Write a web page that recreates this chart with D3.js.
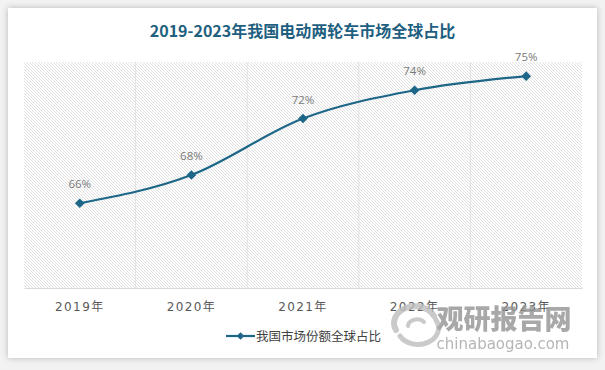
<!DOCTYPE html>
<html>
<head>
<meta charset="utf-8">
<script src="https://cdn.jsdelivr.net/npm/d3@7"></script>
<style>
  html, body { margin: 0; padding: 0; background: #f2f2f2; }
  svg { display: block; font-family: "Noto Sans CJK SC", "DejaVu Sans", sans-serif; }
</style>
</head>
<body>
<svg id="chart" width="605" height="370"></svg>
<script>
// data
const years = ["2019年", "2020年", "2021年", "2022年", "2023年"];
const share = [66, 68, 72, 74, 75];
const labels = ["66%", "68%", "72%", "74%", "75%"];
const seriesName = "我国市场份额全球占比";
const title = "2019-2023年我国电动两轮车市场全球占比";

const W = 605, H = 370;
const margin = { left: 24, right: 23, top: 62, bottom: 82 };
const mainColor = "#1d6688";

const svg = d3.select("#chart");
const defs = svg.append("defs");

// card shadow
const sh = defs.append("filter").attr("id", "shadow")
  .attr("x", "-5%").attr("y", "-5%").attr("width", "110%").attr("height", "110%");
sh.append("feGaussianBlur").attr("in", "SourceAlpha").attr("stdDeviation", 3);
sh.append("feOffset").attr("dx", 0).attr("dy", 0).attr("result", "b");
sh.append("feComponentTransfer").append("feFuncA").attr("type", "linear").attr("slope", 0.25);
const m = sh.append("feMerge");
m.append("feMergeNode");
m.append("feMergeNode").attr("in", "SourceGraphic");

// diagonal hatch for plot area
const pat = defs.append("pattern").attr("id", "hatch")
  .attr("patternUnits", "userSpaceOnUse").attr("width", 3).attr("height", 3);
pat.append("rect").attr("width", 3).attr("height", 3).attr("fill", "#fff");
pat.append("path").attr("d", "M-1,-1 L4,4 M-1,2 L1,4 M2,-1 L4,1")
  .attr("stroke", "#dcdcdc").attr("stroke-width", 0.85);

svg.append("rect").attr("x", 8).attr("y", 8).attr("width", 589).attr("height", 350)
  .attr("fill", "#fff").attr("filter", "url(#shadow)");

const x = d3.scaleBand().domain(years).range([margin.left, W - margin.right]);
const y = d3.scaleLinear().domain([60, 76]).range([H - margin.bottom, margin.top]);

// plot background
svg.append("rect")
  .attr("x", margin.left).attr("y", margin.top)
  .attr("width", W - margin.left - margin.right)
  .attr("height", H - margin.top - margin.bottom)
  .attr("fill", "url(#hatch)");

// vertical grid lines at category boundaries
const bounds = years.map(d => x(d)).concat([x(years[years.length - 1]) + x.bandwidth()]);
svg.append("g").selectAll("line").data(bounds.slice(1, -1)).join("line")
  .attr("x1", d => d).attr("x2", d => d)
  .attr("y1", margin.top).attr("y2", H - margin.bottom)
  .attr("stroke", "#e2e2e2").attr("stroke-width", 1);

// x axis
const xAxis = svg.append("g")
  .attr("transform", `translate(0,${H - margin.bottom})`)
  .call(d3.axisBottom(x).tickSize(0).tickPadding(14));
xAxis.select(".domain").attr("stroke", "#d9d9d9").attr("stroke-width", 1.2);
xAxis.selectAll("text")
  .attr("fill", "#595959").attr("font-size", "12px")
  .attr("letter-spacing", "1.4px")
  .attr("font-family", "'DejaVu Sans', 'Noto Sans CJK SC', sans-serif");

// title
svg.append("text").attr("x", W / 2).attr("y", 37).attr("text-anchor", "middle")
  .attr("font-size", "16px").attr("font-weight", "bold").attr("fill", "#1f5f7f")
  .text(title);

// line
const pts = years.map((d, i) => [x(d) + x.bandwidth() / 2, y(share[i])]);
svg.append("path").datum(pts)
  .attr("d", d3.line().curve(d3.curveMonotoneX))
  .attr("fill", "none").attr("stroke", mainColor).attr("stroke-width", 2.2);

const diamond = d3.symbol().type(d3.symbolDiamond2).size(60);
svg.append("g").selectAll("path").data(pts).join("path")
  .attr("transform", d => `translate(${d[0]},${d[1]})`)
  .attr("d", diamond).attr("fill", mainColor);

svg.append("g").selectAll("text").data(pts).join("text")
  .attr("x", d => d[0]).attr("y", d => d[1] - 15)
  .attr("text-anchor", "middle").attr("font-size", "11.5px").attr("fill", "#7a7a7a")
  .attr("font-family", "'Open Sans', 'DejaVu Sans', sans-serif")
  .text((d, i) => labels[i]);

// legend
const lg = svg.append("g").attr("transform", "translate(226,336)");
lg.append("line").attr("x1", 0).attr("x2", 29).attr("stroke", mainColor).attr("stroke-width", 2.2);
lg.append("path").attr("transform", "translate(14.5,0)")
  .attr("d", d3.symbol().type(d3.symbolDiamond2).size(36)).attr("fill", mainColor);
lg.append("text").attr("x", 30).attr("y", 4.5).attr("font-size", "12.5px")
  .attr("fill", "#404040").text(seriesName);

// watermark
const wm = svg.append("g").attr("opacity", 0.8);
const logo = wm.append("g").attr("transform", "translate(416,324)")
  .attr("fill", "none").attr("stroke", "#bdbdbd").attr("stroke-linecap", "round");
logo.append("path").attr("d", "M-20,6 A20,16 0 0 1 18,-8").attr("stroke-width", 6);
logo.append("path").attr("d", "M20,-4 A20,16 0 0 1 -16,12").attr("stroke-width", 5);
logo.append("path").attr("d", "M-8,2 A9,7 0 0 1 8,-2").attr("stroke-width", 4);
wm.append("text").attr("x", 504).attr("y", 329).attr("text-anchor", "middle")
  .attr("font-size", "27px").attr("font-weight", "900").attr("fill", "#939393")
  .text("观研报告网");
wm.append("text").attr("x", 503).attr("y", 349).attr("text-anchor", "middle")
  .attr("font-size", "15px").attr("fill", "#a3a3a3")
  .attr("font-family", "'DejaVu Sans', sans-serif")
  .text("chinabaogao.com");
</script>
</body>
</html>
